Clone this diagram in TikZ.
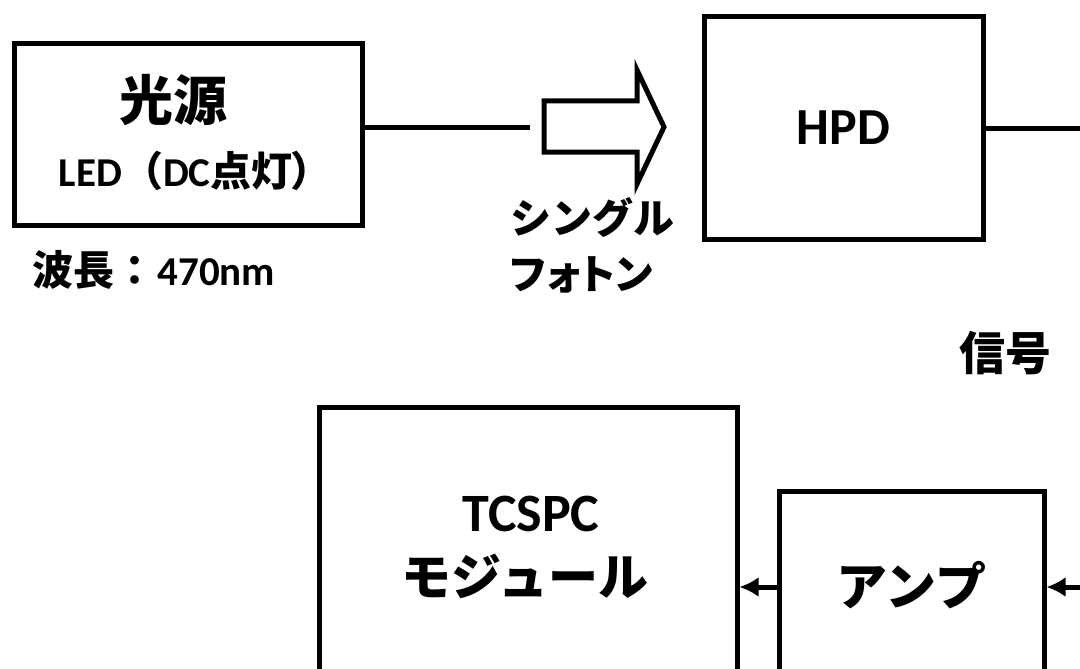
\documentclass[tikz,border=0pt]{standalone}
\usepackage{fontspec}
\setmainfont{Carlito}
\newfontfamily\jp{Noto Sans CJK JP}
\newfontfamily\jpp{Noto Sans CJK JP}[RawFeature=+palt]
\usetikzlibrary{arrows.meta}
\begin{document}
\begin{tikzpicture}[x=1pt,y=-1pt,line width=5pt,
  box/.style={draw,line width=5pt,rectangle,inner sep=0pt},
  lbl/.style={inner sep=0pt},
  fs/.style={font=\fontsize{#1}{#1}\selectfont\bfseries},
  arr/.style={-{Latex[length=19pt,width=20pt]}}]
\useasboundingbox (0,0) rectangle (1080,669);
% boxes
\node[box,minimum width=348pt,minimum height=181pt] (src) at (188,134.5) {};
\node[box,minimum width=279pt,minimum height=222pt,fs=52] (hpd) at (843.5,128) {HPD};
\node[box,minimum width=418pt,minimum height=283pt] (tcspc) at (528,548.5) {};
\node[box,minimum width=265pt,minimum height=189pt,fs=51] (amp) at (911.5,585.5) {\jp アンプ};
% labels
\node[lbl,fs=41] (t2) at (186,171) {LED{\jp （}DC{\jpp 点灯）}};
\node[lbl,fs=54] (t1) at (173,100) {\jp 光源};
\node[lbl,fs=41,anchor=west] (t3) at (30,270) {{\jp 波長：}\hspace{2pt}470nm};
\node[lbl,fs=41,anchor=west] (t4) at (508,218) {\jp シングル};
\node[lbl,fs=41,anchor=west] (t5) at (508,275) {\jpp フォトン};
\node[lbl,fs=46] (t6) at (1005,353) {\jp 信号};
\node[lbl,fs=54] (t7) at (531,514) {TCSPC};
\node[lbl,fs=50] (t8) at (525,576) {\jp モジュール};
% block arrow (single photon)
\coordinate (pa) at (530,127);
\draw[line join=miter] (544,101) -- (637,101) -- (637,70) -- (664,127) -- (637,184) -- (637,152) -- (544,152) -- cycle;
% connectors
\coordinate (hpdout) at (1080,128);
\coordinate (sig) at (1080,587);
\draw (src.east |- pa) -- (pa);
\draw (hpd.east |- hpdout) -- (hpdout);
\draw[arr] (sig) -- (amp.east |- sig);
\draw[arr] (amp.west |- sig) -- (tcspc.east |- sig);
\end{tikzpicture}
\end{document}
